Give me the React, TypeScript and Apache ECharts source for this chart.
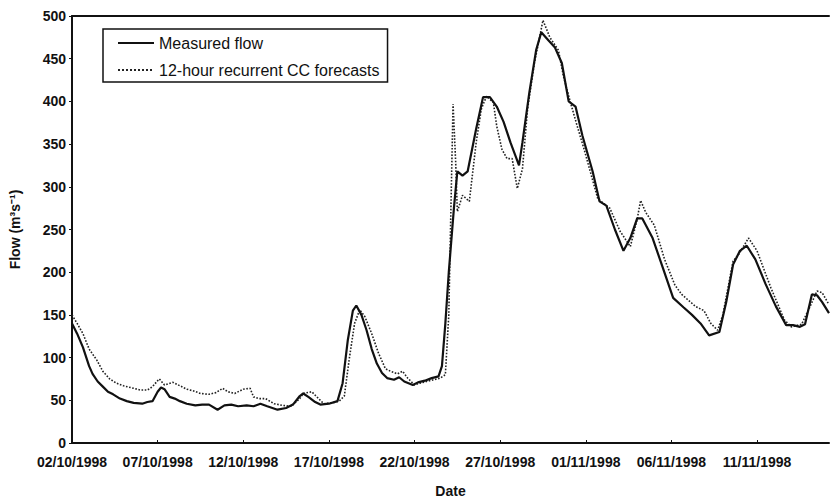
import React, { useEffect, useRef } from "react";
import * as echarts from "echarts";

// x values are days elapsed since 02/10/1998 00:00
const dateLabels = [
  "02/10/1998", "07/10/1998", "12/10/1998", "17/10/1998", "22/10/1998",
  "27/10/1998", "01/11/1998", "06/11/1998", "11/11/1998",
];
const yTicks = [0, 50, 100, 150, 200, 250, 300, 350, 400, 450, 500];

const measuredDays = [
  0, 0.3, 0.64, 1.0, 1.2, 1.5, 1.8, 2.1, 2.4, 2.8, 3.2, 3.6, 4.1, 4.4, 4.7, 5.0, 5.2, 5.4, 5.7, 6.0,
  6.3, 6.7, 7.2, 7.6, 8.0, 8.5, 8.9, 9.3, 9.7, 10.2, 10.6, 11.0, 11.4, 12.0, 12.5, 12.9, 13.3, 13.5,
  13.8, 14.2, 14.5, 15.0, 15.5, 15.8, 16.1, 16.4, 16.6, 16.9, 17.2, 17.5, 17.8, 18.1, 18.4, 18.8,
  19.1, 19.4, 19.9, 20.2, 20.6, 21.0, 21.4, 21.6, 21.8, 22.0, 22.3, 22.5, 22.8, 23.1, 23.6, 24.0,
  24.4, 24.8, 25.2, 25.6, 25.9, 26.1, 26.3, 26.7, 27.1, 27.4, 27.8, 28.2, 28.6, 29.0, 29.4, 29.8,
  30.4, 30.8, 31.2, 31.7, 32.2, 32.6, 33.0, 33.3, 33.9, 34.5, 35.1, 35.7, 36.2, 36.7, 37.2, 37.8,
  38.2, 38.6, 39.0, 39.4, 39.9, 40.5, 41.1, 41.7, 42.1, 42.5, 42.8, 43.2, 43.5, 43.8, 44.2,
];
const measuredFlow = [
  140, 128, 112, 90, 81, 72, 66, 60, 57, 52, 49, 47, 46, 48, 49, 60, 65, 63, 54, 52,
  49, 46, 44, 45, 45, 39, 44, 45, 43, 44, 43, 46, 43, 39, 41, 45, 55, 58,
  54, 48, 45, 46, 49, 70, 120, 155, 161, 150, 132, 110, 93, 82, 76, 74,
  77, 72, 68, 71, 73, 76, 78, 90, 140, 200, 275, 318, 313, 318, 368, 405,
  405, 394, 376, 352, 336, 325, 352, 410, 460, 481, 472, 463, 445, 400, 394, 360,
  318, 283, 278, 250, 225, 240, 263, 263, 240, 205, 170, 159, 150, 140, 126, 130,
  165, 209, 225, 231, 215, 186, 160, 138, 138, 136, 139, 174, 173, 165, 152,
];

const forecastDays = [
  0, 0.3, 0.64, 1.0, 1.45, 1.8, 2.2, 2.6, 3.0, 3.6, 4.0, 4.4, 4.7, 5.0, 5.1, 5.4, 5.9, 6.3, 6.7, 7.1,
  7.5, 8.0, 8.4, 8.8, 9.1, 9.5, 10.0, 10.4, 10.6, 10.9, 11.3, 11.8, 12.3, 12.8, 13.3, 13.5, 14.0,
  14.3, 14.7, 15.2, 15.6, 15.9, 16.2, 16.5, 16.8, 17.1, 17.5, 17.9, 18.3, 18.6, 19.0, 19.3, 19.6,
  20.0, 20.3, 20.7, 21.1, 21.5, 21.8, 22.0, 22.15, 22.25, 22.4, 22.5, 22.8, 23.2, 23.6, 23.9, 24.2,
  24.6, 24.8, 25.1, 25.4, 25.7, 26.0, 26.3, 26.6, 27.0, 27.5, 27.9, 28.4, 28.7, 29.1, 29.5, 29.9,
  30.7, 31.4, 32.0, 32.6, 33.0, 33.2, 33.5, 34.0, 34.6, 35.2, 35.6, 36.4, 36.9, 37.3, 37.7, 38.0,
  38.6, 38.9, 39.5, 40.0, 40.8, 41.6, 42.0, 42.6, 43.1, 43.5, 43.8, 44.2,
];
const forecastFlow = [
  150, 140, 128, 110, 97, 84, 75, 70, 67, 64, 62, 62, 66, 73, 75, 68, 71, 67, 63, 61,
  58, 57, 59, 64, 60, 58, 63, 64, 54, 52, 52, 46, 44, 43, 52, 58, 60,
  54, 46, 47, 49, 55, 100, 140, 156, 148, 128, 105, 87, 84, 81, 84, 76,
  68, 70, 72, 74, 76, 80, 150, 300, 397, 330, 271, 290, 283, 352, 391, 406,
  399, 371, 344, 333, 333, 298, 321, 391, 445, 495, 475, 460, 429, 399, 371, 344,
  286, 275, 248, 230, 262, 284, 270, 255, 215, 185, 174, 160, 155, 140, 132, 150,
  213, 220, 240, 225, 182, 144, 136, 139, 160, 178, 176, 162,
];

const FONT = "'Liberation Sans', Arial, sans-serif";

export default function App() {
  const ref = useRef<HTMLDivElement>(null);
  useEffect(() => {
    if (!ref.current) return;
    const chart = echarts.init(ref.current, undefined, { renderer: "svg" });
    const measured = measuredDays.map((d, i) => [d, measuredFlow[i]]);
    const forecast = forecastDays.map((d, i) => [d, forecastFlow[i]]);
    chart.setOption({
      animation: false,
      backgroundColor: "#ffffff",
      grid: { left: 72, right: 1, top: 16, bottom: 56, containLabel: false },
      legend: {
        show: true,
        left: 103,
        top: 29,
        orient: "vertical",
        padding: [5, 8, 3, 14],
        itemGap: 9,
        itemWidth: 36,
        itemHeight: 14,
        borderColor: "#111",
        borderWidth: 1.5,
        backgroundColor: "#fff",
        itemStyle: { opacity: 0 },
        textStyle: { fontFamily: FONT, fontSize: 16, color: "#111", lineHeight: 18 },
        data: ["Measured flow", "12-hour recurrent CC forecasts"],
      },
      xAxis: [
        {
          type: "value",
          min: 0,
          max: 44.2,
          interval: 5,
          splitLine: { show: false },
          axisLine: { show: true, lineStyle: { color: "#111", width: 2 } },
          axisTick: { show: true, inside: true, length: 3, lineStyle: { color: "#111" } },
          axisLabel: {
            showMaxLabel: false,
            margin: 12,
            fontFamily: FONT,
            fontSize: 14,
            fontWeight: "bold",
            color: "#111",
            formatter: (v: number) => {
              const idx = Math.round(v / 5);
              return Math.abs(v - idx * 5) < 1e-6 && dateLabels[idx] ? dateLabels[idx] : "";
            },
          },
          name: "Date",
          nameLocation: "middle",
          nameGap: 41,
          nameTextStyle: { fontFamily: FONT, fontSize: 14, fontWeight: "bold", color: "#111" },
        },
        {
          type: "value",
          position: "top",
          min: 0,
          max: 44.2,
          axisLine: { show: true, onZero: false, lineStyle: { color: "#111", width: 2 } },
          axisTick: { show: false },
          axisLabel: { show: false },
          splitLine: { show: false },
        },
      ],
      yAxis: {
        type: "value",
        min: yTicks[0],
        max: yTicks[yTicks.length - 1],
        interval: 50,
        splitLine: { show: false },
        axisLine: { show: true, lineStyle: { color: "#111", width: 2 } },
        axisTick: { show: true, length: 3, lineStyle: { color: "#111" } },
        axisLabel: {
          margin: 6,
          fontFamily: FONT,
          fontSize: 14,
          fontWeight: "bold",
          color: "#111",
        },
        name: "Flow (m\u00B3s\u207B\u00B9)",
        nameLocation: "middle",
        nameRotate: 90,
        nameGap: 50,
        nameTextStyle: { fontFamily: FONT, fontSize: 14, fontWeight: "bold", color: "#111" },
      },
      series: [
        {
          name: "Measured flow",
          type: "line",
          data: measured,
          symbol: "none",
          lineStyle: { color: "#111", width: 2.2, type: "solid" },
          itemStyle: { color: "#111" },
          z: 3,
        },
        {
          name: "12-hour recurrent CC forecasts",
          type: "line",
          data: forecast,
          symbol: "none",
          lineStyle: { color: "#222", width: 1.6, type: "dotted" },
          itemStyle: { color: "#222" },
          z: 2,
        },
      ],
    });
    return () => chart.dispose();
  }, []);
  return (
    <div
      ref={ref}
      style={{ position: "absolute", left: 0, top: 0, width: 830, height: 503, background: "#fff" }}
    />
  );
}
